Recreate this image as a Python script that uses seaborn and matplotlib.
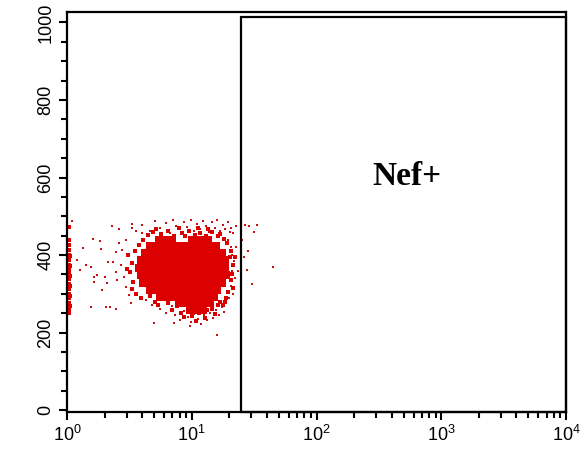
import matplotlib
matplotlib.use("Agg")
import matplotlib.pyplot as plt
import seaborn as sns
import pandas as pd
from matplotlib.patches import Rectangle
from matplotlib.ticker import FixedLocator, FixedFormatter, LogLocator, NullFormatter, MultipleLocator

# ---------------- data ----------------
# dense core of the population (Nef intensity, channel)
core_x = [5.5, 6.2, 6.9, 10.1, 11.2, 12.4, 13.6,
          4.6, 5.1, 5.7, 6.4, 7.1, 8.0, 9.0, 10.1, 11.3, 12.6, 14.1, 15.6,
          4.2, 4.7, 5.2, 5.8, 6.5, 7.3, 8.2, 9.2, 10.3, 11.5, 12.9, 14.5, 16.2, 17.6,
          3.9, 4.4, 4.9, 5.5, 6.2, 7.0, 7.8, 8.8, 9.9, 11.1, 12.4, 13.9, 15.6, 17.4, 18.6,
          3.8, 4.2, 4.6, 5.2, 5.9, 6.6, 7.4, 8.3, 9.3, 10.4, 11.7, 13.1, 14.7, 16.5, 18.5,
          3.9, 4.3, 4.8, 5.4, 6.1, 6.8, 7.7, 8.6, 9.7, 10.9, 12.2, 13.7, 15.3, 17.2, 18.9,
          4.1, 4.5, 5.0, 5.6, 6.3, 7.1, 8.0, 9.0, 10.1, 11.3, 12.7, 14.2, 15.9, 17.6,
          4.6, 5.2, 5.8, 6.5, 7.3, 8.2, 9.2, 10.3, 11.5, 12.9, 14.4, 16.0,
          5.6, 6.3, 7.4, 8.4, 9.5, 10.6, 11.9, 13.4, 15.0,
          7.9, 8.9, 10.0, 11.2, 12.6, 14.0,
          9.6, 11.0, 12.4]
core_y = [440] * 7 + [422] * 12 + [404] * 14 + [386] * 15 + [367] * 15 + \
         [348] * 15 + [329] * 14 + [310] * 12 + [292] * 9 + [275] * 6 + [258] * 3

# events on the rim of the core
rim_x = [4.5, 4.9, 5.7, 6.4, 7.2, 8.3, 8.9, 9.5, 10.6, 11.7, 12.9, 14.5, 16.1, 17.0, 18.0,
         5.2, 7.9, 11.3, 13.4,
         3.1, 3.3, 3.2, 3.4, 3.5, 3.0, 3.3, 3.6, 3.8, 4.1, 3.9,
         19.0, 20.6, 21.6, 21.0, 20.8, 21.4, 19.5, 18.7, 20.1, 22.1, 18.6, 17.9,
         4.6, 5.1, 5.4, 6.4, 6.9, 7.6, 8.2, 9.4, 10.1, 11.5, 12.8, 13.3, 14.6, 15.3,
         16.2, 17.0, 10.8, 11.9, 8.7]
rim_y = [452, 460, 455, 463, 450, 458, 448, 462, 452, 458, 450, 460, 448, 455, 442,
         468, 470, 470, 466,
         400, 380, 355, 330, 410, 365, 312, 300, 425, 440, 290,
         430, 410, 375, 350, 335, 315, 305, 290, 395, 395, 280, 270,
         295, 280, 270, 275, 258, 268, 250, 255, 242, 250, 238, 258, 262, 248,
         270, 280, 230, 262, 240]

# scattered events around the population
fringe_x = [3.3, 4.0, 4.6, 5.1, 5.6, 6.2, 6.7, 7.1, 7.5, 8.1, 8.6, 9.2, 9.8, 10.4, 11.0,
            11.6, 12.3, 13.0, 13.7, 14.5, 15.3, 16.0, 16.8, 17.7, 18.6, 19.6, 20.5, 21.5, 22.5,
            19.5, 20.5, 21.2, 22.0, 21.0, 22.3, 20.8, 21.6, 19.8, 22.6, 23.3, 20.3,
            26.5, 28.6, 31.4, 33.5, 28.1, 27.6, 30.3, 44.7, 25.5, 26.0,
            5.6, 6.2, 6.9, 7.4, 8.0, 8.6, 9.3, 9.9, 10.5, 11.2, 11.8, 12.5, 13.2, 14.0,
            14.8, 15.6, 16.5, 17.4, 18.2, 15.8, 4.8, 4.3, 7.2, 5.0, 9.6,
            1.09, 2.3, 2.62, 3.3, 3.6, 4.0, 1.62, 1.84, 2.98, 2.62, 1.35, 1.88, 2.48, 2.77,
            1.2, 1.42, 1.56, 2.15, 2.35, 2.72, 1.27, 1.74, 1.65, 2.02, 2.48, 2.52, 1.65,
            2.1, 1.91, 1.56, 2.06, 2.22, 2.48, 2.88, 2.98, 3.15, 3.27]
fringe_y = [470, 478, 462, 488, 470, 482, 458, 490, 475, 466, 485, 472, 490, 462, 480,
            468, 488, 475, 460, 484, 470, 490, 462, 478, 468, 485, 470, 458, 476,
            440, 420, 400, 385, 360, 340, 320, 300, 290, 420, 360, 460,
            478, 474, 459, 478, 410, 361, 325, 368, 440, 395,
            262, 250, 268, 245, 232, 255, 240, 228, 248, 236, 222, 245, 232, 250,
            238, 258, 245, 265, 252, 193, 270, 285, 225, 224, 216,
            487, 474, 466, 479, 461, 456, 441, 436, 438, 430, 417, 415, 407, 412,
            387, 374, 368, 381, 381, 374, 361, 348, 343, 343, 356, 335, 330,
            327, 309, 265, 265, 265, 260, 343, 317, 296, 276]

# events piled up on the lowest channel
edge_x = [1.03] * 17 + [1.06] * 6
edge_y = [250, 262, 275, 288, 300, 312, 325, 338, 350, 362, 375, 388, 400, 412, 425, 438, 472,
          268, 295, 320, 345, 372, 398]

# gate
gate_x = [24.7, 10000]
gate_y = [0, 1014]
gate_label = "Nef+"
gate_label_pos = (535, 602)

x_ticks = [1, 10, 100, 1000, 10000]
x_tick_labels = [r"$10^{0}$", r"$10^{1}$", r"$10^{2}$", r"$10^{3}$", r"$10^{4}$"]
y_ticks = [0, 200, 400, 600, 800, 1000]
y_tick_labels = ["0", "200", "400", "600", "800", "1000"]

# ---------------- plot ----------------
sns.set_theme(style="white")
plt.rcParams["font.family"] = ["Liberation Sans", "DejaVu Sans"]
plt.rcParams["mathtext.fontset"] = "custom"
plt.rcParams["mathtext.rm"] = "Liberation Sans"
plt.rcParams["mathtext.it"] = "Liberation Sans:italic"
plt.rcParams["mathtext.bf"] = "Liberation Sans:bold"

fig = plt.figure(figsize=(5.88, 4.55), dpi=100)
ax = fig.add_axes([67 / 588, 1 - 412 / 455, (566 - 67) / 588, (412 - 12) / 455])

core_df = pd.DataFrame({"x": core_x, "y": core_y})
rim_df = pd.DataFrame({"x": rim_x, "y": rim_y})
fringe_df = pd.DataFrame({"x": fringe_x, "y": fringe_y})
edge_df = pd.DataFrame({"x": edge_x, "y": edge_y})

sns.scatterplot(data=core_df, x="x", y="y", ax=ax, marker="s", s=30,
                color="#dd0000", linewidth=0, legend=False)
sns.scatterplot(data=rim_df, x="x", y="y", ax=ax, marker="s", s=9,
                color="#d80000", linewidth=0, legend=False)
sns.scatterplot(data=edge_df, x="x", y="y", ax=ax, marker="s", s=9,
                color="#dd0000", linewidth=0, legend=False)
sns.scatterplot(data=fringe_df, x="x", y="y", ax=ax, marker="s", s=4.5,
                color="#c81010", linewidth=0, legend=False)

ax.set_xscale("log")
ax.set_xlim(1, 10000)
ax.set_ylim(-5, 1027)

ax.add_patch(Rectangle((gate_x[0], -5), gate_x[1] - gate_x[0], gate_y[1] + 5,
                       fill=False, edgecolor="black", linewidth=1.6, zorder=5, clip_on=False))
ax.text(gate_label_pos[0], gate_label_pos[1], gate_label, ha="center", va="center",
        fontsize=24, fontweight="bold", color="black",
        family=["Liberation Serif", "DejaVu Serif"])

ax.xaxis.set_major_locator(FixedLocator(x_ticks))
ax.xaxis.set_major_formatter(FixedFormatter(x_tick_labels))
ax.xaxis.set_minor_locator(LogLocator(base=10, subs=range(2, 10)))
ax.xaxis.set_minor_formatter(NullFormatter())
ax.yaxis.set_major_locator(FixedLocator(y_ticks))
ax.yaxis.set_major_formatter(FixedFormatter(y_tick_labels))
ax.yaxis.set_minor_locator(MultipleLocator(50))

for sp in ax.spines.values():
    sp.set_visible(True)
    sp.set_color("black")
    sp.set_linewidth(1.6)

ax.tick_params(axis="both", which="major", direction="out", length=6, width=1.5,
               color="black", labelsize=13, labelcolor="black", pad=3,
               bottom=True, left=True, top=False, right=False)
ax.tick_params(axis="both", which="minor", direction="out", length=4.5, width=1.5,
               color="black", bottom=True, left=True, top=False, right=False)
for lab in ax.get_yticklabels():
    lab.set_rotation(90)
    lab.set_va("center")
    lab.set_ha("right")

ax.set_xlabel("")
ax.set_ylabel("")
ax.grid(False)

fig.savefig("out.png", dpi=100)
